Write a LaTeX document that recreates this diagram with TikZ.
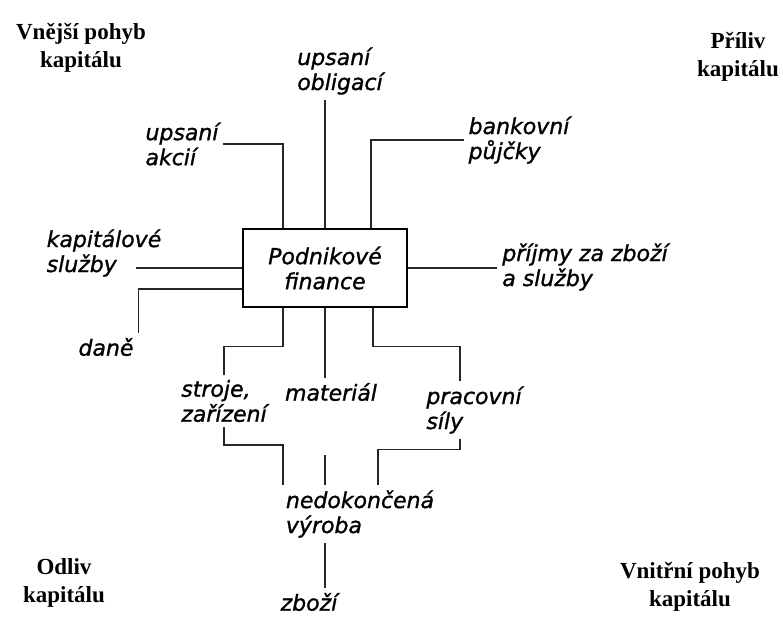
\documentclass[tikz,border=0pt]{standalone}
\usepackage{fontspec}
\setmainfont{Liberation Serif}
\newfontfamily\lblfont{DejaVu Sans Oblique}[FakeBold=1.2]
\usepackage{tikz}
\usetikzlibrary{positioning,calc}

\begin{document}
\begin{tikzpicture}[x=1pt, y=-1pt,
  lbl/.style={font=\lblfont\fontsize{22}{25}\selectfont, align=left, inner sep=0pt, outer sep=5pt},
  corner/.style={font=\bfseries\fontsize{23}{28}\selectfont, align=center, inner sep=0pt},
  link/.style={line width=1.2pt, draw=black!85}]
\useasboundingbox (0,0) rectangle (783,618);
% corner captions
\node[corner] (vnejsi) at (81,48) {Vnější pohyb\\kapitálu};
\node[corner] (priliv) at (738,57) {Příliv\\kapitálu};
\node[corner] (odliv) at (64,583) {Odliv\\kapitálu};
\node[corner] (vnitrni) at (690,587) {Vnitřní pohyb\\kapitálu};
% central box
\node[draw, line width=1.2pt, minimum width=164pt, minimum height=78pt,
  align=center, font=\lblfont\fontsize{22}{25}\selectfont] (pf) at (325,268) {Podnikové\\finance};
% sources
\node[lbl] (akcie) at (182,144) {upsaní\\akcií};
\node[lbl] (obl) at (340,71) {upsaní\\obligací};
\node[lbl] (pujcky) at (519,140) {bankovní\\půjčky};
\node[lbl] (sluzby) at (104,253) {kapitálové\\služby};
\node[lbl] (prijmy) at (585,267) {příjmy za zboží\\a služby};
\node[lbl] (dane) at (106,347) {daně};
% production
\node[lbl] (stroje) at (224,401) {stroje,\\zařízení};
\node[lbl] (material) at (331,392) {materiál};
\node[lbl] (sily) at (474,410) {pracovní\\síly};
\node[lbl] (vyroba) at (360,514) {nedokončená\\výroba};
\node[lbl] (zbozi) at (309,602) {zboží};
% links into the box
\draw[link] (akcie.east) -| ([xshift=-42pt]pf.north);
\draw[link] (pf.north) -- (pf.north |- obl.south);
\draw[link] (pujcky.west) -| ([xshift=46pt]pf.north);
\draw[link] (pf.west) -- ++(-106,0);
\draw[link] ([yshift=-21pt]pf.west) -| (dane.north east);
\draw[link] (pf.east) -- (pf.east -| prijmy.west);
% links out of the box
\draw[link] ([xshift=-42pt]pf.south) -- ++(0,39) -| (stroje.north);
\draw[link] (pf.south) -- (pf.south |- material.north);
\draw[link] ([xshift=48pt]pf.south) -- ++(0,39) -| ([xshift=-14pt]sily.north);
% into work in progress
\draw[link] (stroje.south) -- ++(0,18) -| ([xshift=-77pt]vyroba.north);
\draw[link] (pf.south |- vyroba.north) -- ++(0,-30);
\draw[link] ([xshift=-14pt]sily.south) -- ++(0,11) -| ([xshift=18pt]vyroba.north);
\draw[link] (pf.south |- vyroba.south) -- (pf.south |- zbozi.north);
\end{tikzpicture}
\end{document}
